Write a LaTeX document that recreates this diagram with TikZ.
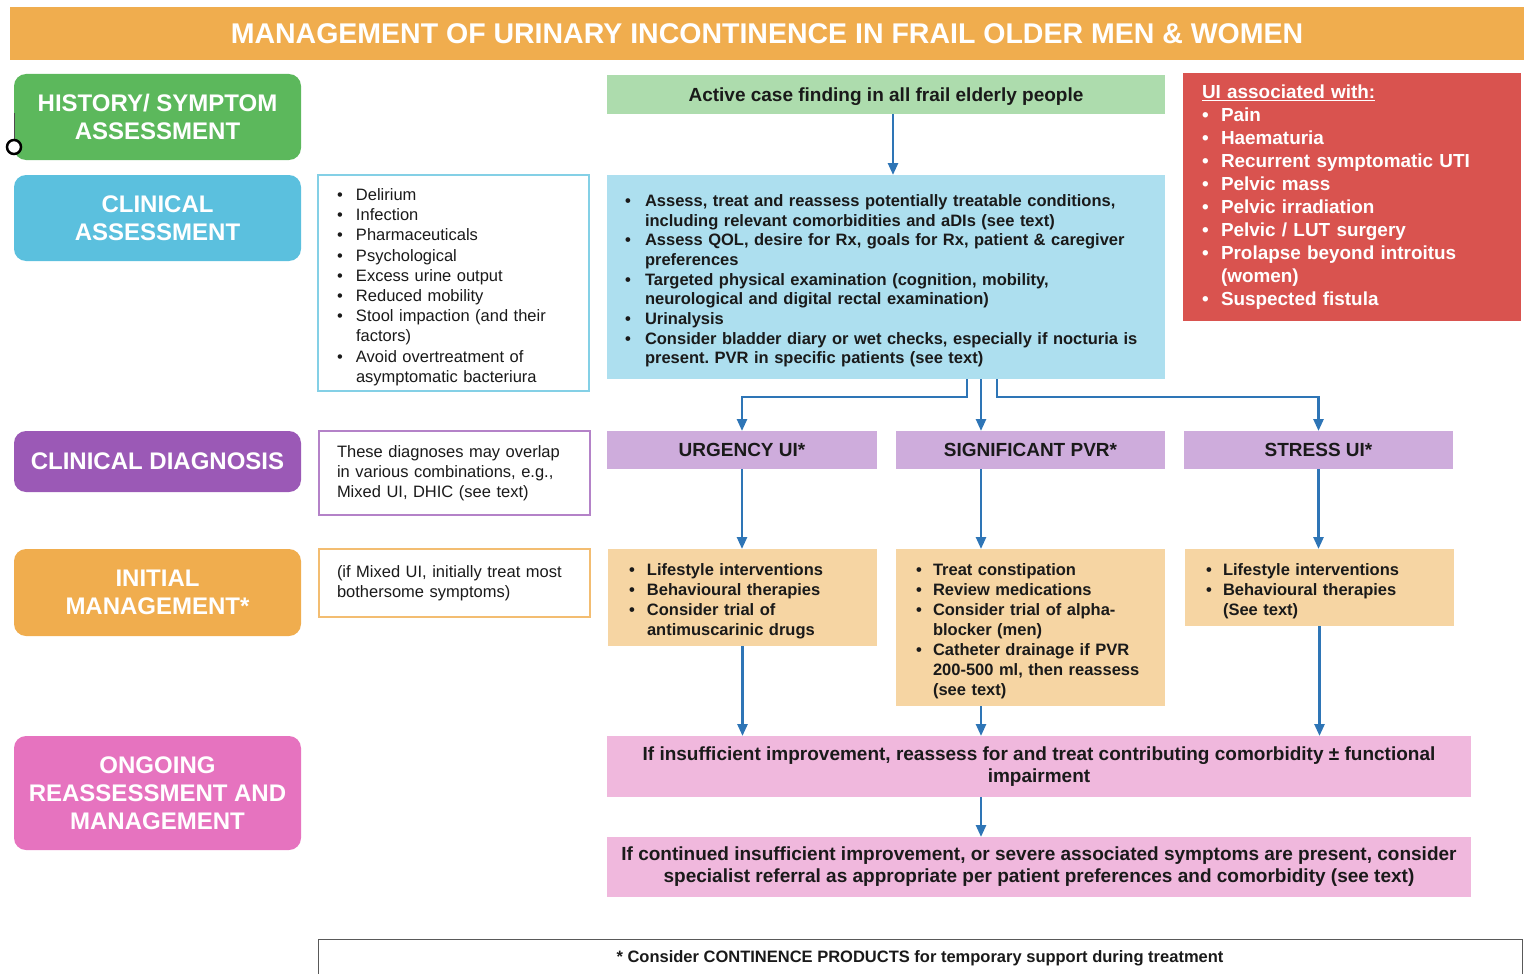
\documentclass[tikz,border=0pt]{standalone}
\usepackage{fontspec}
\setmainfont{Liberation Sans}
\usetikzlibrary{arrows.meta}
\frenchspacing
\definecolor{corange}{HTML}{F0AD4E}
\definecolor{cgreen}{HTML}{5CB85C}
\definecolor{cblue}{HTML}{5BC0DE}
\definecolor{cpurple}{HTML}{9B59B6}
\definecolor{cpink}{HTML}{E673BF}
\definecolor{lgreen}{HTML}{ADDCAD}
\definecolor{lblue}{HTML}{ADDFEF}
\definecolor{cred}{HTML}{D9534F}
\definecolor{lpurple}{HTML}{CEACDC}
\definecolor{lorange}{HTML}{F6D5A3}
\definecolor{lpink}{HTML}{F0B8DD}
\definecolor{arrowc}{HTML}{2E75B6}
\definecolor{txt}{HTML}{1A1A1A}
\newlength\bhang
\newcommand\bi{\par\hangindent=\bhang\hangafter=1\noindent\makebox[\bhang][l]{\textbullet}}
\newcommand\lpad[2]{\frenchspacing\leftskip=#1\relax\setlength\bhang{#2}}
\tikzset{
  box/.style={rectangle, anchor=north west, inner ysep=0pt, outer sep=0pt},
  side/.style={box, rounded corners=12pt, text=white, font=\bfseries\fontsize{24}{28}\selectfont, align=center, minimum width=287pt, inner xsep=0pt},
  plain/.style={box, fill=white, line width=1.5pt, align=left, inner xsep=0pt, text=txt, font=\fontsize{16.5}{20.2}\selectfont},
  bold/.style={box, text=txt, font=\bfseries\fontsize{16.5}{19.7}\selectfont},
  list/.style={bold, align=left, inner xsep=0pt},
  dhead/.style={bold, fill=lpurple, minimum height=38pt, text depth=0pt, font=\bfseries\fontsize{19}{21}\selectfont},
  mgmt/.style={list, fill=lorange, text width=269pt, minimum width=269pt, font=\bfseries\fontsize{16.5}{20}\selectfont},
  wide/.style={bold, fill=lpink, minimum width=864pt, align=center, font=\bfseries\fontsize{19}{22}\selectfont},
  arr/.style={draw=arrowc, line width=2.6pt, -{Triangle[width=10pt,length=12pt]}},
}
\begin{document}
\begin{tikzpicture}[x=1pt,y=-1pt]
\useasboundingbox (0,0) rectangle (1524,974);
% title
\node[box, fill=corange, minimum width=1514pt, minimum height=53pt, text depth=0pt, text=white, font=\bfseries\fontsize{28.5}{30}\selectfont] (title) at (10,7) {MANAGEMENT OF URINARY INCONTINENCE IN FRAIL OLDER MEN \& WOMEN};
% left column
\node[side, fill=cgreen, minimum height=86pt] (hist) at (14,74) {HISTORY/ SYMPTOM\\ASSESSMENT};
\node[side, fill=cblue, minimum height=86pt] (clin) at (14,175) {CLINICAL\\ASSESSMENT};
\node[side, fill=cpurple, minimum height=61pt] (diag) at (14,431) {CLINICAL DIAGNOSIS};
\node[side, fill=corange, minimum height=87pt] (init) at (14,549) {INITIAL\\MANAGEMENT*};
\node[side, fill=cpink, minimum height=114pt] (ongo) at (14,736) {ONGOING\\REASSESSMENT AND\\MANAGEMENT};
\draw[gray!60!black, line width=1pt] (14,113) -- (14,140);
\draw[black, line width=2.5pt, fill=white] (14,147) circle (7pt);
% middle column
\node[plain, draw=cblue!75, minimum width=271pt, text width=271pt, minimum height=216pt] (causes) at (318,175) {\lpad{19pt}{19pt}%
\bi Delirium
\bi Infection
\bi Pharmaceuticals
\bi Psychological
\bi Excess urine output
\bi Reduced mobility
\bi Stool impaction (and their\newline factors)
\bi Avoid overtreatment of\newline asymptomatic bacteriura\par};
\node[plain, draw=cpurple!75, minimum width=271pt, text width=271pt, minimum height=84pt] (overlap) at (319,431) {\lpad{18pt}{0pt}%
\noindent These diagnoses may overlap\newline in various combinations, e.g.,\newline Mixed UI, DHIC (see text)\par};
\node[plain, draw=corange!80, minimum width=271pt, text width=271pt, minimum height=68pt] (mixed) at (319,549) {\lpad{18pt}{0pt}%
\noindent (if Mixed UI, initially treat most\newline bothersome symptoms)\par};
% right column
\node[bold, fill=lgreen, minimum width=558pt, minimum height=39pt, text depth=0pt, font=\bfseries\fontsize{19}{21}\selectfont] (active) at (607,75) {Active case finding in all frail elderly people};
\node[list, fill=lblue, minimum width=558pt, text width=558pt, minimum height=204pt] (assess) at (607,175) {\lpad{18pt}{20pt}%
\bi Assess, treat and reassess potentially treatable conditions,\newline including relevant comorbidities and aDIs (see text)
\bi Assess QOL, desire for Rx, goals for Rx, patient \& caregiver\newline preferences
\bi Targeted physical examination (cognition, mobility,\newline neurological and digital rectal examination)
\bi Urinalysis
\bi Consider bladder diary or wet checks, especially if nocturia is\newline present. PVR in specific patients (see text)\par};
\node[list, fill=cred, minimum width=338pt, text width=338pt, minimum height=248pt, text=white, font=\bfseries\fontsize{18.9}{23}\selectfont] (red) at (1183,73) {\lpad{19pt}{19pt}%
\noindent\underline{UI associated with:}
\bi Pain
\bi Haematuria
\bi Recurrent symptomatic UTI
\bi Pelvic mass
\bi Pelvic irradiation
\bi Pelvic / LUT surgery
\bi Prolapse beyond introitus\newline (women)
\bi Suspected fistula\par};
% diagnoses
\node[dhead, minimum width=270pt] (urg) at (607,431) {URGENCY UI*};
\node[dhead, minimum width=269pt] (pvr) at (896,431) {SIGNIFICANT PVR*};
\node[dhead, minimum width=269pt] (stress) at (1184,431) {STRESS UI*};
% management
\node[mgmt, minimum height=97pt] (m1) at (608,549) {\lpad{21pt}{18pt}%
\bi Lifestyle interventions
\bi Behavioural therapies
\bi Consider trial of\newline antimuscarinic drugs\par};
\node[mgmt, minimum height=157pt] (m2) at (896,549) {\lpad{20pt}{17pt}%
\bi Treat constipation
\bi Review medications
\bi Consider trial of alpha-\newline blocker (men)
\bi Catheter drainage if PVR\newline 200-500 ml, then reassess\newline (see text)\par};
\node[mgmt, minimum height=77pt] (m3) at (1185,549) {\lpad{21pt}{17pt}%
\bi Lifestyle interventions
\bi Behavioural therapies\newline (See text)\par};
% ongoing
\node[wide, minimum height=61pt] (reass) at (607,736) {If insufficient improvement, reassess for and treat contributing comorbidity ± functional\\impairment};
\node[wide, minimum height=60pt] (spec) at (607,837) {If continued insufficient improvement, or severe associated symptoms are present, consider\\specialist referral as appropriate per patient preferences and comorbidity (see text)};
% footer
\node[box, draw=gray!70!black, line width=1pt, fill=white, minimum width=1204pt, minimum height=38pt, text=txt, font=\bfseries\fontsize{16.5}{18}\selectfont] (foot) at (318,939) {* Consider CONTINENCE PRODUCTS for temporary support during treatment};
% connectors
\coordinate (b1) at (967,0);
\coordinate (mx) at (981,0);
\coordinate (b3) at (997,0);
\coordinate (jy) at (0,397);
\coordinate (ax) at (893,0);
\draw[arr] (active.south -| ax) -- (assess.north -| ax);
\draw[arr] (assess.south -| b1) -- (b1 |- jy) -| (urg.north);
\draw[arr] (assess.south -| mx) -- (pvr.north -| mx);
\draw[arr] (assess.south -| b3) -- (b3 |- jy) -| (stress.north);
\draw[arr] (urg.south) -- (m1.north -| urg.south);
\draw[arr] (pvr.south -| mx) -- (m2.north -| mx);
\draw[arr] (stress.south) -- (m3.north -| stress.south);
\draw[arr] (m1.south) -- (reass.north -| m1.south);
\draw[arr] (m2.south -| mx) -- (reass.north -| mx);
\draw[arr] (m3.south) -- (reass.north -| m3.south);
\draw[arr] (reass.south -| mx) -- (spec.north -| mx);
\end{tikzpicture}
\end{document}
